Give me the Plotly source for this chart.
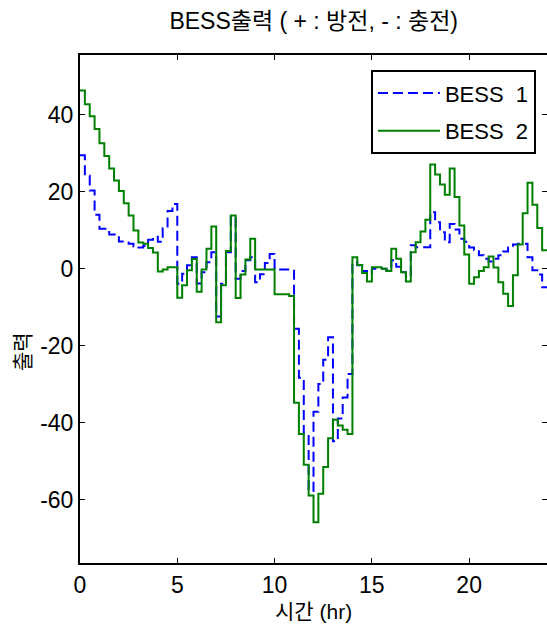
import numpy as np
import plotly.graph_objects as go

# 15-minute resolution, 96 intervals over 24 hours
step_hr = 0.25
tick_hours = [0, 5, 10, 15, 20]
y_ticks = [-60, -40, -20, 0, 20, 40]

bess1 = [
    29.5, 24.2, 20.3, 14.0, 10.4, 10.4, 8.9, 8.9, 7.1, 7.1, 6.5, 5.8, 5.5, 6.0, 7.5, 8.3, 7.0, 10.5, 15.0, 16.8,
    -3.9, -1.3, 0.9, 3.0, -3.8, -0.9, 1.7, 4.3, -12.4, -3.9, 4.3, 13.5, -2.6, -0.6, 2.2, 3.0, -3.5, -1.4, 1.5, 3.8,
    -0.2, -0.2, -0.2, -0.2, -15.6, -28.3, -43.1, -57.7, -37.1, -29.9, -23.6, -17.8, -44.8, -38.9, -33.4, -27.3, 1.7, 0.9, -0.6, -1.7,
    0.0, 0.0, 0.0, -0.5, 2.2, 0.5, -0.9, -2.2, 6.1, 5.6, 5.6, 5.6, 14.7, 12.1, 9.5, 6.9, 11.6, 10.2, 7.8, 7.0,
    5.5, 4.9, 3.5, 2.6, 1.9, 2.6, 3.5, 4.5, 5.5, 6.3, 6.5, 6.5, 3.0, -0.4, -1.5, -4.8,
]
bess2 = [
    46.3, 42.7, 39.6, 36.3, 32.6, 29.3, 26.0, 22.9, 20.2, 17.0, 13.8, 9.9, 6.8, 6.5, 5.4, 4.2, -0.7, -0.2, 0.4, 0.4,
    -7.5, -4.3, -0.4, 2.5, -6.0, -0.2, 5.2, 11.0, -13.9, -4.3, 4.6, 13.8, -7.6, -1.5, 2.4, 7.8, -0.2, -0.2, -0.2, -0.2,
    -6.6, -6.6, -6.6, -7.1, -34.8, -42.9, -50.9, -58.9, -65.8, -58.4, -51.5, -44.0, -39.2, -40.7, -41.8, -42.9, 3.0, 1.0, -1.1, -3.3,
    0.4, 0.4, 0.0, -0.6, 5.2, 2.6, -0.9, -3.3, 4.3, 6.9, 9.7, 12.7, 27.1, 24.5, 21.9, 19.2, 26.0, 18.6, 11.2, 3.7,
    -3.9, -2.2, -0.6, 0.4, 3.2, 0.3, -3.5, -6.5, -9.7, -1.7, 6.3, 14.4, 22.3, 16.6, 10.6, 4.8,
]

n = len(bess1)
t = np.arange(n + 1) * step_hr
y1 = bess1 + [bess1[-1]]
y2 = bess2 + [bess2[-1]]

FONT = "Liberation Sans Narrow, Arial Narrow, Liberation Sans, Noto Sans CJK KR, sans-serif"

fig = go.Figure()
fig.add_trace(go.Scatter(
    x=t, y=y1, mode="lines", line_shape="hv", name="BESS\u00a0\u00a01",
    line=dict(color="#0000FF", width=2, dash="10px,5px"), legendgroup="a",
))
fig.add_trace(go.Scatter(
    x=t, y=y2, mode="lines", line_shape="hv", name="BESS\u00a0\u00a02",
    line=dict(color="#008000", width=2), legendgroup="b",
))

fig.update_layout(
    width=547, height=639,
    margin=dict(l=80, r=0, t=55, b=76, autoexpand=False),
    paper_bgcolor="white", plot_bgcolor="white",
    font=dict(family=FONT, size=22, color="black"),
    title=dict(text="BESS출력 ( + : 방전, - : 충전)", x=0.5735, xanchor="center",
               y=1 - 21 / 639, yanchor="middle", yref="container",
               font=dict(size=23, family=FONT)),
    showlegend=True,
    legend=dict(x=0.623, y=0.970, xanchor="left", yanchor="top",
                bordercolor="black", borderwidth=2, bgcolor="white",
                itemwidth=62, tracegroupgap=6, font=dict(size=22, family=FONT)),
    xaxis=dict(range=[0, 24], tickvals=tick_hours, showline=True, linewidth=2,
               linecolor="black", mirror="ticks", ticks="inside", ticklen=5,
               tickcolor="black", showgrid=False, zeroline=False,
               tickfont=dict(size=23)),
    yaxis=dict(range=[-76.4, 55.5], tickvals=y_ticks, ticktext=[str(v) for v in y_ticks],
               showline=True, linewidth=2,
               linecolor="black", mirror="ticks", ticks="inside", ticklen=5,
               tickcolor="black", showgrid=False, zeroline=False,
               tickfont=dict(size=23)),
    annotations=[
        dict(text="시간 (hr)", xref="paper", yref="paper", x=0.5, y=-(612 - 563) / 508.3,
             xanchor="center", yanchor="middle", showarrow=False, font=dict(size=21)),
        dict(text="출력", xref="paper", yref="paper", x=(22 - 80) / 467, y=1 - (352 - 54.7) / 508.3,
             xanchor="center", yanchor="middle", showarrow=False, textangle=-90, font=dict(size=21)),
    ],
)

fig.write_html("out.html")
